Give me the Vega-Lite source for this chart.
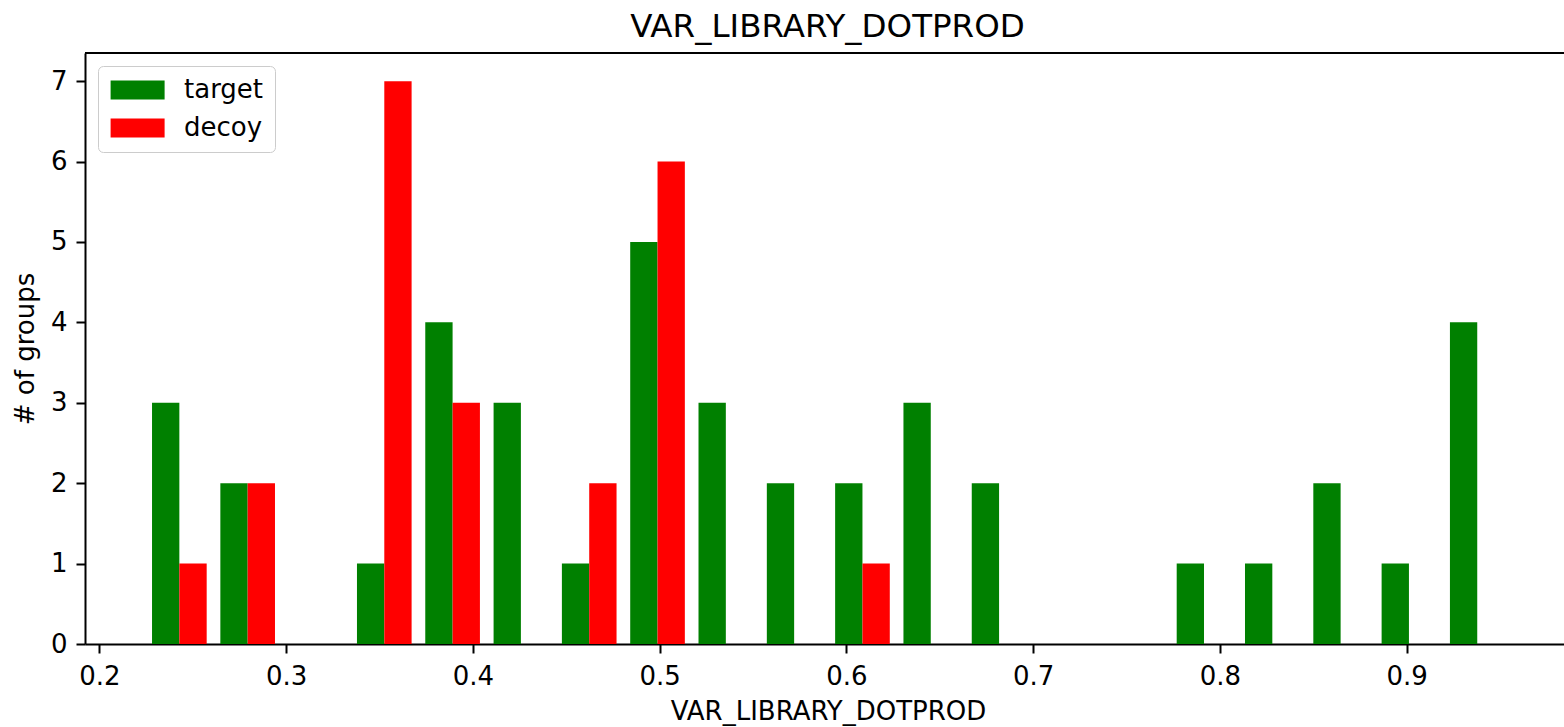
{
  "$schema": "https://vega.github.io/schema/vega-lite/v6.json",
  "width": 1479,
  "height": 591,
  "autosize": {"type": "none"},
  "padding": {"left": 85, "top": 53, "right": 0, "bottom": 83},
  "background": "white",
  "title": {
    "text": "VAR_LIBRARY_DOTPROD",
    "font": "DejaVu Sans",
    "fontSize": 32.5,
    "fontWeight": "normal",
    "color": "black",
    "offset": 9,
    "dx": 3
  },
  "config": {
    "view": {"stroke": null},
    "font": "DejaVu Sans",
    "axis": {
      "domainColor": "black",
      "domainWidth": 2,
      "tickColor": "black",
      "tickWidth": 2,
      "tickSize": 9,
      "grid": false,
      "labelFont": "DejaVu Sans",
      "labelFontSize": 26,
      "labelColor": "black",
      "titleFont": "DejaVu Sans",
      "titleFontSize": 26,
      "titleFontWeight": "normal",
      "titleColor": "black"
    },
    "legend": {
      "labelFont": "DejaVu Sans",
      "labelFontSize": 26,
      "labelColor": "black"
    }
  },
  "data": {
    "values": [
      {"bin_lo": 0.22457, "bin_hi": 0.26115, "series": "target", "count": 3},
      {"bin_lo": 0.22457, "bin_hi": 0.26115, "series": "decoy", "count": 1},
      {"bin_lo": 0.26115, "bin_hi": 0.29772, "series": "target", "count": 2},
      {"bin_lo": 0.26115, "bin_hi": 0.29772, "series": "decoy", "count": 2},
      {"bin_lo": 0.33430, "bin_hi": 0.37087, "series": "target", "count": 1},
      {"bin_lo": 0.33430, "bin_hi": 0.37087, "series": "decoy", "count": 7},
      {"bin_lo": 0.37087, "bin_hi": 0.40745, "series": "target", "count": 4},
      {"bin_lo": 0.37087, "bin_hi": 0.40745, "series": "decoy", "count": 3},
      {"bin_lo": 0.40745, "bin_hi": 0.44402, "series": "target", "count": 3},
      {"bin_lo": 0.44402, "bin_hi": 0.48060, "series": "target", "count": 1},
      {"bin_lo": 0.44402, "bin_hi": 0.48060, "series": "decoy", "count": 2},
      {"bin_lo": 0.48060, "bin_hi": 0.51717, "series": "target", "count": 5},
      {"bin_lo": 0.48060, "bin_hi": 0.51717, "series": "decoy", "count": 6},
      {"bin_lo": 0.51717, "bin_hi": 0.55375, "series": "target", "count": 3},
      {"bin_lo": 0.55375, "bin_hi": 0.59032, "series": "target", "count": 2},
      {"bin_lo": 0.59032, "bin_hi": 0.62690, "series": "target", "count": 2},
      {"bin_lo": 0.59032, "bin_hi": 0.62690, "series": "decoy", "count": 1},
      {"bin_lo": 0.62690, "bin_hi": 0.66347, "series": "target", "count": 3},
      {"bin_lo": 0.66347, "bin_hi": 0.70005, "series": "target", "count": 2},
      {"bin_lo": 0.77320, "bin_hi": 0.80977, "series": "target", "count": 1},
      {"bin_lo": 0.80977, "bin_hi": 0.84635, "series": "target", "count": 1},
      {"bin_lo": 0.84635, "bin_hi": 0.88292, "series": "target", "count": 2},
      {"bin_lo": 0.88292, "bin_hi": 0.91950, "series": "target", "count": 1},
      {"bin_lo": 0.91950, "bin_hi": 0.95607, "series": "target", "count": 4}
    ]
  },
  "encoding": {
    "x": {
      "field": "bin_lo",
      "type": "quantitative",
      "scale": {"domain": [0.19234, 0.98423], "nice": false, "zero": false},
      "axis": {
        "title": "VAR_LIBRARY_DOTPROD",
        "values": [0.2, 0.3, 0.4, 0.5, 0.6, 0.7, 0.8, 0.9],
        "format": ".1f",
        "labelPadding": 10,
        "titlePadding": 9,
        "titleX": 743
      }
    },
    "x2": {"field": "bin_hi"},
    "y": {
      "field": "count",
      "type": "quantitative",
      "scale": {"domain": [0, 7.35], "nice": false},
      "axis": {
        "title": "# of groups",
        "values": [0, 1, 2, 3, 4, 5, 6, 7],
        "labelPadding": 9,
        "titlePadding": 12
      }
    },
    "y2": {"datum": 0},
    "color": {
      "field": "series",
      "type": "nominal",
      "scale": {"domain": ["target", "decoy"], "range": ["#008000", "#ff0000"]},
      "legend": {
        "title": null,
        "orient": "none",
        "legendX": 13,
        "legendY": 13,
        "padding": 11,
        "strokeColor": "#cccccc",
        "fillColor": "rgba(255,255,255,0.8)",
        "cornerRadius": 5,
        "symbolType": "M-1,-0.833H3.737V0.833H-1Z",
        "symbolSize": 520,
        "symbolStrokeWidth": 0,
        "symbolOpacity": 1,
        "labelOffset": 49,
        "rowPadding": 12
      }
    }
  },
  "layer": [
    {
      "transform": [{"filter": "datum.series === 'target'"}],
      "mark": {"type": "bar", "xOffset": 6.83, "x2Offset": -34.16, "opacity": 1}
    },
    {
      "transform": [{"filter": "datum.series === 'decoy'"}],
      "mark": {"type": "bar", "xOffset": 34.16, "x2Offset": -6.83, "opacity": 1}
    },
    {
      "mark": {"type": "rule", "color": "black", "strokeWidth": 2},
      "encoding": {
        "y": {"datum": 7.35},
        "y2": null,
        "x": null,
        "x2": null,
        "color": null
      }
    }
  ]
}
